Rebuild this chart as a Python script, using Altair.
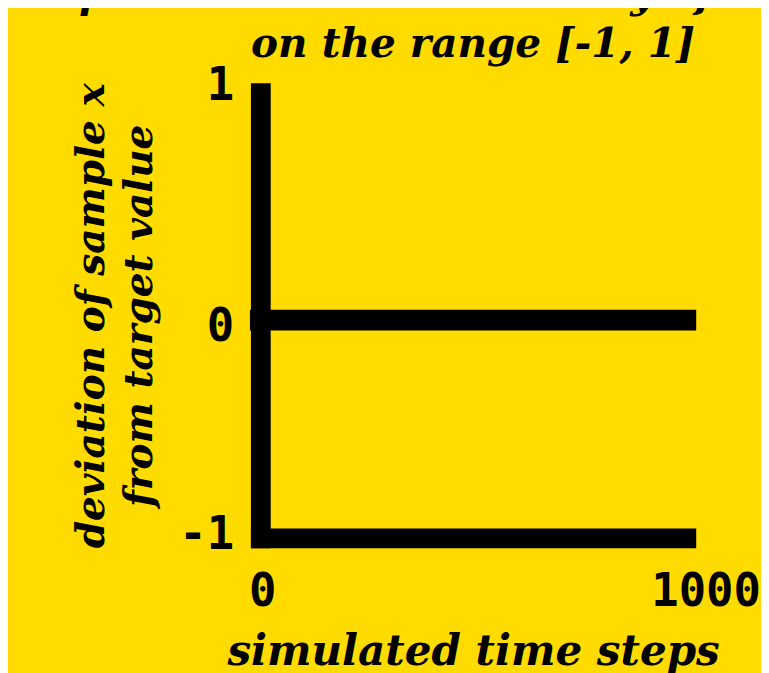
import altair as alt
import pandas as pd

# data
steps = [0, 1000]
deviation = [0, 0]
x_ticks = [0, 1000]
y_ticks = [-1, 0, 1]

title_lines = ["Representational instability of sample x", "on the range [-1, 1]"]
x_title = "simulated time steps"
y_title = ["deviation of sample x", "from target value"]

BG = "#FFDB00"
SERIF = "DejaVu Serif"
MONO = "DejaVu Sans Mono"

df = pd.DataFrame({"step": steps, "deviation": deviation})

x_axis = alt.Axis(
    values=x_ticks,
    labelExpr="'' + datum.value",
    title=x_title,
    grid=False,
    ticks=False,
    tickSize=0,
    domainWidth=20,
    domainColor="black",
    domainCap="square",
    labelFont=MONO,
    labelFontSize=46,
    labelFontWeight="bold",
    labelColor="black",
    labelPadding=32,
    labelFlush=False,
    labelOverlap=False,
    labelBound=False,
    labelOffset={"condition": {"test": "datum.value == 1000", "value": 20}, "value": 2},
    titleFont=SERIF,
    titleFontSize=42.5,
    titleFontWeight="bold",
    titleFontStyle="italic",
    titleColor="black",
    titleBaseline="alphabetic",
    titleY=128,
)

y_axis = alt.Axis(
    values=y_ticks,
    labelExpr="'' + datum.value",
    title=y_title,
    grid=False,
    ticks=False,
    tickSize=0,
    domainWidth=20,
    domainColor="black",
    domainCap="square",
    labelFont=MONO,
    labelFontSize=46,
    labelFontWeight="bold",
    labelColor="black",
    labelPadding=27,
    labelFlush=False,
    labelOverlap=False,
    labelBound=False,
    labelOffset={
        "condition": [
            {"test": "datum.value == 1", "value": -17},
            {"test": "datum.value == 0", "value": 7},
        ],
        "value": -3,
    },
    titleFont=SERIF,
    titleFontSize=39.5,
    titleFontWeight="bold",
    titleFontStyle="italic",
    titleColor="black",
    titleBaseline="alphabetic",
    titleAlign="center",
    titleAngle=270,
    titleLineHeight=48,
    titleX=-158,
    titleY=225,
)

chart = (
    alt.Chart(df)
    .mark_line(color="black", strokeWidth=21, strokeCap="square")
    .encode(
        x=alt.X("step:Q", scale=alt.Scale(domain=[0, 1000], nice=False), axis=x_axis),
        y=alt.Y("deviation:Q", scale=alt.Scale(domain=[-1, 1.045], nice=False, zero=False), axis=y_axis),
    )
    .properties(
        width=430,
        height=450,
        background=BG,
        padding={"left": 255, "top": 82, "right": 76, "bottom": 133},
        autosize=alt.AutoSizeParams(type="none"),
        title=alt.TitleParams(
            text=title_lines,
            font=SERIF,
            fontSize=41,
            fontWeight="bold",
            fontStyle="italic",
            color="black",
            anchor="middle",
            lineHeight=50,
            offset=2,
            dy=5,
        ),
    )
    .configure_view(stroke=None)
)

chart.save("out.html", embed_options={"renderer": "svg", "actions": False})
